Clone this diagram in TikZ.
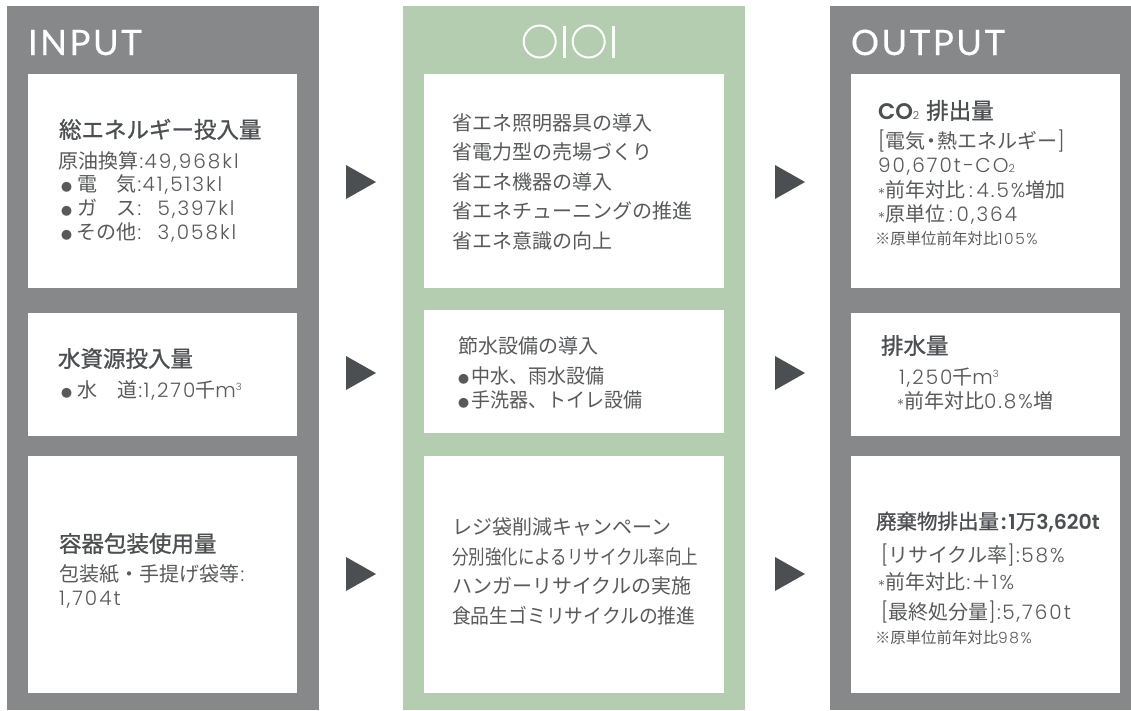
\documentclass[tikz,border=0pt]{standalone}
\usepackage{graphicx}
\usepackage{fontspec}
\setmainfont{Noto Sans CJK JP}
\newfontfamily\medfont[FakeBold=1]{Noto Sans CJK JP}
\newfontfamily\latfont[LetterSpace=10]{Poppins Light}
\newfontfamily\latmed{Poppins SemiBold}
\newfontfamily\headfont[LetterSpace=7,FakeBold=0.3]{Lato}
\definecolor{panelgrey}{HTML}{87888A}
\definecolor{panelgreen}{HTML}{B4CDB0}
\definecolor{ink}{HTML}{58595B}
\definecolor{headink}{HTML}{4C4F52}
\tikzset{
  x=1pt,y=-1pt,
  panelgrey/.style={fill=panelgrey,draw=none},
  panelgreen/.style={fill=panelgreen,draw=none},
  card/.style={fill=white,draw=none},
  arrowtri/.style={fill=headink,draw=none},
  logoring/.style={draw=white,line width=2pt,fill=none},
  logobar/.style={draw=white,line width=3pt},
  txt/.style={anchor=base west,inner sep=0pt,outer sep=0pt,text=ink,font=\fontsize{20}{24}\selectfont},
  small/.style={txt,font=\fontsize{15.4}{18}\selectfont},
  head/.style={txt,text=headink,font=\fontsize{22.5}{26}\medfont},
  band/.style={anchor=base west,inner sep=0pt,outer sep=0pt,text=white,font=\fontsize{35}{40}\headfont},
}
\newcommand{\dotb}{{\fontsize{11}{11}\selectfont ●}}
\newcommand{\lt}[1]{{\latfont #1}}
\newcommand{\ltm}[1]{{\latmed #1}}
\newcommand{\cln}{\hspace{1.5pt}\lt{:}\hspace{1.5pt}}
\newcommand{\clnw}{\hspace{4pt}\lt{:}\hspace{4pt}}
\newcommand{\astk}{{\fontsize{15}{15}\latfont\raisebox{-2pt}{*}}}
\newcommand{\sps}[1]{\raisebox{7pt}{\fontsize{10}{10}\latfont #1}}
\newcommand{\subs}[1]{{\fontsize{11}{11}\latfont #1}}
\newcommand{\subsm}[1]{{\fontsize{12}{12}\latfont #1}}
\newcommand{\hs}[2]{\scalebox{#1}[1]{#2}}
\begin{document}
\begin{tikzpicture}
\useasboundingbox (0,0) rectangle (1131,710);
\fill[white] (0,0) rectangle (1131,710);
% panels
\path[panelgrey] (7,6) rectangle (319,710);
\path[panelgreen] (403,6) rectangle (745,710);
\path[panelgrey] (830,6) rectangle (1131,710);
% cards
\path[card] (28,74) rectangle (297,288);
\path[card] (28,313) rectangle (297,436);
\path[card] (28,456) rectangle (297,693);
\path[card] (424,74) rectangle (724,288);
\path[card] (424,310) rectangle (724,433);
\path[card] (424,456) rectangle (724,693);
\path[card] (851,74) rectangle (1120,288);
\path[card] (851,313) rectangle (1120,436);
\path[card] (851,456) rectangle (1120,693);
% triangles
\foreach \ax in {346,775}{
  \foreach \ay in {182,373,574}{
    \path[arrowtri] (\ax,\ay-17) -- (\ax+30,\ay) -- (\ax,\ay+17) -- cycle;
  }
}
% logo
\draw[logoring] (539.7,41.5) circle (16);
\draw[logobar] (564.3,26) -- (564.3,58);
\draw[logoring] (588.7,41.5) circle (16);
\draw[logobar] (613.3,26) -- (613.3,58);
% band titles
\node[band] (inputlabel) at (28,55) {INPUT};
\node[band] (outputlabel) at (851,55) {OUTPUT};
% input
\node[head] (i1h) at (59,138) {総エネルギー投入量};
\node[txt] (i1a) at (58,168) {原油換算\cln\lt{49,968kl}};
\node[txt] (i1b) at (58,191) {\hspace{3pt}\dotb\hspace{5pt}電\hspace{19pt}気\cln\lt{41,513kl}};
\node[txt] (i1c) at (58,215) {\hspace{3pt}\dotb\hspace{5pt}ガ\hspace{19pt}ス\cln\hspace{15pt}\lt{5,397kl}};
\node[txt] (i1d) at (58,239) {\hspace{3pt}\dotb\hspace{4pt}その他\cln\hspace{15pt}\lt{3,058kl}};
\node[head] (i2h) at (58,367) {水資源投入量};
\node[txt] (i2a) at (58,397) {\hspace{3pt}\dotb\hspace{5pt}水\hspace{20pt}道\cln\lt{1,270}千\lt{m}\sps{3}};
\node[head] (i3h) at (59,552) {容器包装使用量};
\node[txt] (i3a) at (59,581) {包装紙・手提げ袋等\cln};
\node[txt] (i3b) at (59,605) {\lt{1,704t}};
% middle
\node[txt] (m1a) at (452,130) {省エネ照明器具の導入};
\node[txt] (m1b) at (452,159) {省電力型の売場づくり};
\node[txt] (m1c) at (452,189) {省エネ機器の導入};
\node[txt] (m1d) at (452,218) {省エネチューニングの推進};
\node[txt] (m1e) at (452,248) {省エネ意識の向上};
\node[txt] (m2a) at (458,353) {節水設備の導入};
\node[txt] (m2b) at (458,383) {\dotb\hspace{2pt}\hs{0.95}{中水、雨水設備}};
\node[txt] (m2c) at (458,407) {\dotb\hspace{2pt}\hs{0.95}{手洗器、トイレ設備}};
\node[txt] (m3a) at (452,534) {レジ袋削減キャンペーン};
\node[txt] (m3b) at (452,564) {\hs{0.825}{分別強化によるリサイクル率向上}};
\node[txt] (m3c) at (452,593) {ハンガーリサイクルの実施};
\node[txt] (m3d) at (452,623) {\hs{0.94}{食品生ゴミリサイクルの推進}};
% output
\node[head] (o1h) at (878,119) {\ltm{CO}\subs{2}\hspace{7pt}排出量};
\node[txt] (o1a) at (878,148) {\lt{[}電気\hspace{-4pt}・\hspace{-4pt}熱エネルギー\lt{]}};
\node[txt] (o1b) at (878,172) {\lt{90,670t−CO}\subs{2}};
\node[txt] (o1c) at (878,197) {\astk 前年対比\clnw\lt{4.5\%}増加};
\node[txt] (o1d) at (878,221) {\astk 原単位\clnw\lt{0,364}};
\node[small] (o1e) at (875,244) {※原単位前年対比\lt{105\%}};
\node[head] (o2h) at (881,354) {排水量};
\node[txt] (o2a) at (899,384) {\lt{1,250}千\lt{m}\sps{3}};
\node[txt] (o2b) at (897,408) {\astk 前年対比\lt{0.8\%}増};
\node[head,font=\fontsize{20.5}{24}\medfont] (o3h) at (876,529) {廃棄物排出量\hspace{2pt}\ltm{:}\hspace{2pt}\ltm{1}万\ltm{3,620t}};
\node[txt] (o3a) at (881,562) {\lt{[}リサイクル率\lt{]}\cln\lt{58\%}};
\node[txt] (o3b) at (878,589) {\astk 前年対比\cln＋\lt{1\%}};
\node[txt] (o3c) at (881,619) {\lt{[}最終処分量\lt{]}\cln\lt{5,760t}};
\node[small] (o3d) at (875,643) {※原単位前年対比\lt{98\%}};
\end{tikzpicture}
\end{document}
